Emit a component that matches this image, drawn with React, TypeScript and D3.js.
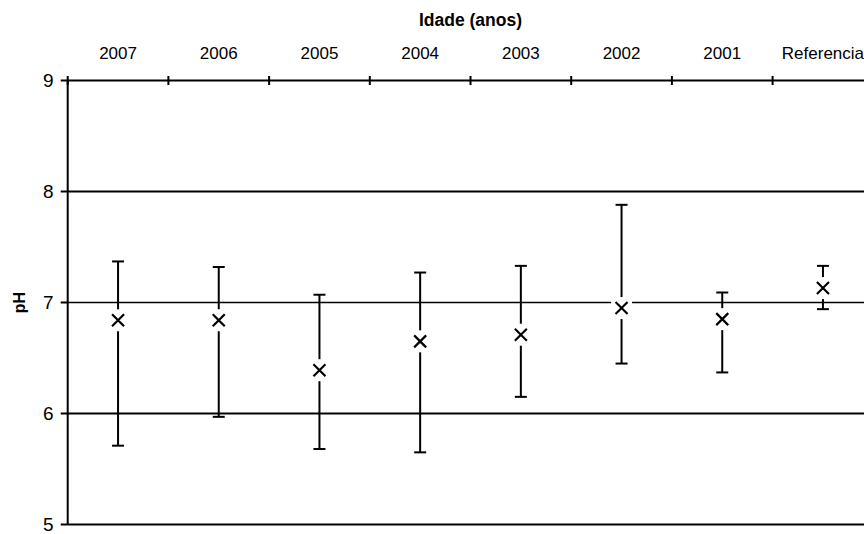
import React from "react";
import * as d3 from "d3";

const categories = ["2007", "2006", "2005", "2004", "2003", "2002", "2001", "Referencia"];
const meanValues = [6.84, 6.84, 6.39, 6.65, 6.71, 6.95, 6.85, 7.13];
const upperValues = [7.37, 7.32, 7.07, 7.27, 7.33, 7.88, 7.09, 7.33];
const lowerValues = [5.71, 5.97, 5.68, 5.65, 6.15, 6.45, 6.37, 6.94];
const yTicks = [5, 6, 7, 8, 9];
const gridValues = [6, 7, 8];

const W = 864;
const H = 534;
const left = 67.7;
const band = 100.7;
const top = 80.5;
const bottom = 524.5;

export default function App() {
  const x = d3
    .scaleBand<string>()
    .domain(categories)
    .range([left, left + band * categories.length])
    .paddingInner(0)
    .paddingOuter(0);
  const y = d3.scaleLinear().domain([5, 9]).range([bottom, top]);
  const font = "'Liberation Sans', Arial, sans-serif";
  const boundaries = d3.range(categories.length + 1).map((i) => left + i * band);
  const plotRight = left + band * categories.length;

  return (
    <svg width={W} height={H} style={{ position: "absolute", left: 0, top: 0, background: "#fff" }}>
      <rect x={0} y={0} width={W} height={H} fill="#fff" />
      {/* title */}
      <text
        x={(left + plotRight) / 2}
        y={25.5}
        textAnchor="middle"
        fontFamily={font}
        fontSize={17.5}
        fontWeight="bold"
        fill="#000"
      >
        Idade (anos)
      </text>
      {/* y label */}
      <text
        transform={`translate(25,${y(7)}) rotate(-90)`}
        textAnchor="middle"
        fontFamily={font}
        fontSize={16}
        fontWeight="bold"
        fill="#000"
      >
        pH
      </text>
      {/* gridlines */}
      {gridValues.map((v) => (
        <line key={v} x1={left} x2={W} y1={y(v)} y2={y(v)} stroke="#000" strokeWidth={v === 7 ? 1.4 : 2} />
      ))}
      {/* bottom line */}
      <line x1={left} x2={W} y1={y(5)} y2={y(5)} stroke="#000" strokeWidth={2} />
      {/* left axis */}
      <line x1={left} x2={left} y1={top} y2={bottom} stroke="#000" strokeWidth={2} />
      {yTicks.map((v) => (
        <g key={v}>
          <line x1={left - 7} x2={left} y1={y(v)} y2={y(v)} stroke="#000" strokeWidth={2} />
          <text x={53.5} y={y(v) + 6.5} textAnchor="end" fontFamily={font} fontSize={19} fill="#000">
            {v}
          </text>
        </g>
      ))}
      {/* top axis */}
      <line x1={left} x2={W} y1={top} y2={top} stroke="#000" strokeWidth={2} />
      {boundaries.map((bx, i) => (
        <line key={i} x1={bx} x2={bx} y1={top - 4.5} y2={top + 4.5} stroke="#000" strokeWidth={2} />
      ))}
      {categories.map((c) => (
        <text
          key={c}
          x={(x(c) as number) + band / 2}
          y={59.3}
          textAnchor="middle"
          fontFamily={font}
          fontSize={17}
          fill="#000"
        >
          {c}
        </text>
      ))}
      {/* error bars */}
      {categories.map((c, i) => {
        const cx = (x(c) as number) + band / 2;
        const yt = y(upperValues[i]);
        const yb = y(lowerValues[i]);
        const ym = y(meanValues[i]);
        return (
          <g key={c}>
            <line x1={cx} x2={cx} y1={yt} y2={yb} stroke="#000" strokeWidth={2} />
            <line x1={cx - 6} x2={cx + 6} y1={yt} y2={yt} stroke="#000" strokeWidth={2} />
            <line x1={cx - 6} x2={cx + 6} y1={yb} y2={yb} stroke="#000" strokeWidth={2} />
            <rect x={cx - 10.5} y={ym - 11} width={21} height={22} fill="#fff" />
            <path
              d={`M${cx - 6},${ym - 6}L${cx + 6},${ym + 6}M${cx - 6},${ym + 6}L${cx + 6},${ym - 6}`}
              stroke="#000"
              strokeWidth={2.2}
              fill="none"
            />
          </g>
        );
      })}
    </svg>
  );
}
